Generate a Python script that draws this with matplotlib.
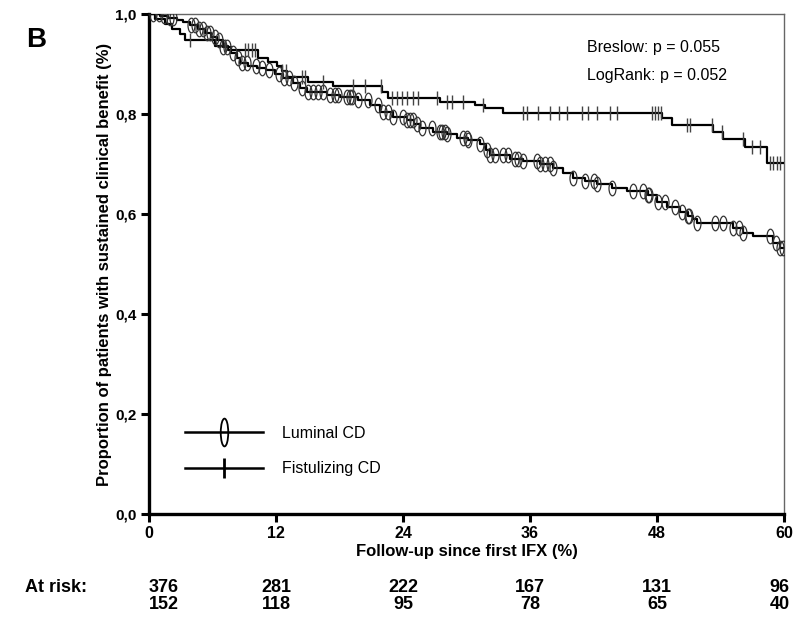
import matplotlib
matplotlib.use("Agg")
import matplotlib.pyplot as plt
import numpy as np
from matplotlib.path import Path
from matplotlib.transforms import Affine2D, blended_transform_factory
from matplotlib.lines import Line2D

plt.rcParams['font.family'] = ['Liberation Sans', 'DejaVu Sans']

# ---- data (months, survival proportion) ----
lum_event_t = [1.0, 1.8, 2.6, 3.2, 3.9, 4.6, 5.3, 5.9, 6.4, 7.0, 7.7, 8.3, 8.6, 9.4, 10.2, 11.1,
               11.9, 12.7, 13.6, 14.3, 14.9, 16.8, 18.0, 19.7, 20.9, 21.8, 23.1, 24.4, 25.0,
               25.6, 26.8, 28.2, 29.1, 30.1, 31.3, 31.8, 32.2, 34.1, 35.3, 36.9, 38.2, 39.1,
               40.1, 41.2, 42.3, 43.7, 45.2, 47.1, 48.0, 48.9, 50.2, 50.9, 51.4, 51.8, 55.2,
               56.1, 57.1, 59.0, 59.6]
lum_event_s = [0.997, 0.993, 0.989, 0.984, 0.978, 0.970, 0.962, 0.955, 0.948, 0.934, 0.922, 0.912,
               0.902, 0.897, 0.892, 0.888, 0.880, 0.872, 0.862, 0.853, 0.844, 0.838, 0.834, 0.828,
               0.818, 0.804, 0.794, 0.788, 0.780, 0.772, 0.764, 0.760, 0.752, 0.748, 0.740,
               0.728, 0.718, 0.710, 0.706, 0.700, 0.692, 0.682, 0.672, 0.666, 0.660, 0.652,
               0.646, 0.638, 0.624, 0.614, 0.604, 0.596, 0.590, 0.582, 0.572, 0.562, 0.556,
               0.542, 0.532]
lum_censor_t = [0.4, 0.9, 1.4, 2.0, 2.3, 4.0, 4.3, 4.7, 5.1, 5.5, 5.8, 6.2, 6.6, 7.0, 7.4, 7.9, 8.4,
                8.8, 9.3, 10.1, 10.7, 11.3, 12.3, 12.8, 13.2, 13.7, 14.5, 15.0, 15.5, 16.0, 16.4,
                17.1, 17.6, 17.9, 18.7, 19.0, 19.2, 19.7, 20.7, 21.6, 22.1, 22.6, 23.1, 24.0,
                24.4, 24.7, 24.9, 25.3, 25.8, 26.7, 27.5, 27.7, 28.0, 28.2, 29.7, 30.0, 30.1,
                31.3, 31.9, 32.2, 32.7, 33.4, 33.9, 34.6, 34.9, 35.3, 36.7, 36.9, 37.4, 37.9,
                38.2, 40.1, 41.2, 42.0, 42.3, 43.7, 45.7, 46.7, 47.1, 47.2, 48.1, 48.8, 49.7,
                50.4, 50.9, 51.0, 51.8, 53.5, 54.2, 55.2, 55.7, 56.1, 58.7, 59.2, 59.6, 59.9]

fis_event_t = [0.6, 1.5, 2.2, 2.9, 3.4, 6.2, 7.5, 10.3, 11.2, 12.1, 12.6, 13.0, 15.0, 17.4, 22.0,
               22.6, 27.5, 30.8, 31.7, 33.4, 48.5, 49.4, 53.3, 54.2, 56.3, 58.4]
fis_event_s = [0.990, 0.980, 0.970, 0.960, 0.948, 0.936, 0.928, 0.912, 0.904, 0.896, 0.886, 0.874,
               0.864, 0.856, 0.844, 0.832, 0.824, 0.818, 0.812, 0.802, 0.792, 0.778, 0.764,
               0.750, 0.734, 0.702]
fis_censor_t = [3.9, 7.2, 9.1, 9.4, 9.7, 10.0, 12.6, 12.95, 14.5, 14.7, 16.4, 19.3, 20.4, 21.9,
                23.0, 23.4, 23.9, 24.4, 24.9, 25.4, 27.2, 28.2, 28.6, 29.7, 31.6, 35.3, 35.7,
                36.8, 37.9, 38.7, 39.5, 40.9, 41.5, 42.3, 43.6, 44.2, 47.5, 47.8, 48.1, 48.4,
                50.8, 51.1, 53.2, 54.1, 56.1, 57.0, 57.7, 58.7, 59.0, 59.3, 59.6]

x_ticks = [0, 12, 24, 36, 48, 60]
y_ticks = [0.0, 0.2, 0.4, 0.6, 0.8, 1.0]
y_tick_labels = ["0,0", "0,2", "0,4", "0,6", "0,8", "1,0"]
risk_lum = [376, 281, 222, 167, 131, 96]
risk_fis = [152, 118, 95, 78, 65, 40]


def step_xy(ev_t, ev_s, t_end=60.0):
    xs = [0.0] + list(ev_t) + [t_end]
    ys = [1.0] + list(ev_s) + [ev_s[-1]]
    return np.array(xs), np.array(ys)


def surv_at(t, ev_t, ev_s):
    ev_t = np.asarray(ev_t)
    ev_s = np.asarray(ev_s)
    idx = np.searchsorted(ev_t, t, side='right') - 1
    return np.where(idx < 0, 1.0, ev_s[np.clip(idx, 0, None)])


ell = Path.unit_circle().transformed(Affine2D().scale(0.48, 1.0))

fig = plt.figure(figsize=(8.02, 6.18), dpi=100)
ax = fig.add_axes([0.1858, 0.1683, 0.7918, 0.809])

lx, ly = step_xy(lum_event_t, lum_event_s)
fx, fy = step_xy(fis_event_t, fis_event_s)
ax.step(lx, ly, where='post', color='black', lw=1.6, zorder=3)
ax.step(fx, fy, where='post', color='black', lw=1.6, zorder=3)

lc = np.array(lum_censor_t)
ax.plot(lc, surv_at(lc, lum_event_t, lum_event_s), linestyle='none', marker=ell,
        markersize=10.5, markerfacecolor='none', markeredgecolor='#333333', markeredgewidth=0.9, zorder=4)
fc = np.array(fis_censor_t)
ax.plot(fc, surv_at(fc, fis_event_t, fis_event_s), linestyle='none', marker='|',
        markersize=9.5, markeredgecolor='#444444', markeredgewidth=1.0, zorder=4)

ax.set_xlim(0, 60)
ax.set_ylim(0, 1.0)
ax.set_xticks(x_ticks)
ax.set_xticklabels([str(v) for v in x_ticks], fontsize=11.5, fontweight='bold')
ax.set_yticks(y_ticks)
ax.set_yticklabels(y_tick_labels, fontsize=11, fontweight='bold')
ax.tick_params(axis='both', direction='out', length=6, width=2.2, color='black', pad=3)

for s in ['left', 'bottom']:
    ax.spines[s].set_linewidth(2.4)
    ax.spines[s].set_color('black')
for s in ['top', 'right']:
    ax.spines[s].set_linewidth(1.0)
    ax.spines[s].set_color('#666666')

ax.set_xlabel("Follow-up since first IFX (%)", fontsize=12, fontweight='bold', labelpad=2)
ax.set_ylabel("Proportion of patients with sustained clinical benefit (%)", fontsize=12,
              fontweight='bold', labelpad=2)

ax.text(0.690, 0.933, "Breslow: p = 0.055", transform=ax.transAxes, fontsize=11.5, va='center')
ax.text(0.690, 0.877, "LogRank: p = 0.052", transform=ax.transAxes, fontsize=11.5, va='center')

handles = [Line2D([0], [0], color='black', lw=1.8, marker=Path.unit_circle().transformed(Affine2D().scale(0.27, 1.0)),
                  markersize=20, markerfacecolor='none', markeredgecolor='black', markeredgewidth=1.3),
           Line2D([0], [0], color='black', lw=1.8, marker='|', markersize=15, markeredgewidth=2.0,
                  markeredgecolor='black')]
ax.legend(handles, ["Luminal CD", "Fistulizing CD"], loc='center left', bbox_to_anchor=(0.056, 0.126),
          frameon=False, handlelength=4.9, handletextpad=1.2, labelspacing=1.3, fontsize=11.5,
          borderaxespad=0, borderpad=0)

fig.text(0.033, 0.935, "B", fontsize=20, fontweight='bold', va='center')

tr = blended_transform_factory(ax.transData, fig.transFigure)
fig.text(0.031, 0.050, "At risk:", fontsize=13, fontweight='bold', va='center')
has = ['left', 'center', 'center', 'center', 'center', 'right']
for i, xv in enumerate(x_ticks):
    dx = 0.0
    if i == 5:
        dx = 0.55
    ax.text(xv + dx, 0.050, str(risk_lum[i]), transform=tr, ha=has[i], va='center',
            fontsize=13, fontweight='bold')
    ax.text(xv + dx, 0.0225, str(risk_fis[i]), transform=tr, ha=has[i], va='center',
            fontsize=13, fontweight='bold')

fig.savefig("out.png", dpi=100)
